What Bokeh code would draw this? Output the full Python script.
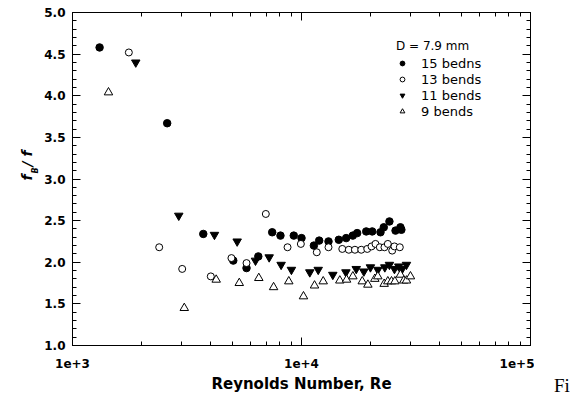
import math
from bokeh.plotting import figure
from bokeh.layouts import row
from bokeh.models import (Range1d, FixedTicker, LinearAxis, LogAxis, Label,
                          Legend, LegendItem, CustomJSTickFormatter, Div)
from bokeh.embed import file_html
from bokeh.resources import INLINE

# ---- data ----
re_15 = [1313, 2591, 3725, 5036, 5753, 6477, 7448, 8093, 9253, 10000, 11325,
         11946, 13120, 14550, 15670, 16750, 17500, 19170, 20360, 22130, 22870,
         24210, 25740, 27040, 27300]
fb_15 = [4.58, 3.67, 2.34, 2.02, 1.93, 2.07, 2.36, 2.32, 2.32, 2.29, 2.20,
         2.26, 2.25, 2.27, 2.29, 2.32, 2.35, 2.37, 2.37, 2.36, 2.42,
         2.49, 2.38, 2.42, 2.39]

re_13 = [1762, 2391, 3013, 4017, 4943, 5753, 6985, 8690, 9935, 11660, 13120,
         15070, 16090, 17110, 18240, 19370, 20220, 21040, 21980, 23030, 23820,
         24890, 25460, 26870]
fb_13 = [4.52, 2.18, 1.92, 1.83, 2.05, 1.99, 2.58, 2.18, 2.22, 2.12, 2.18,
         2.16, 2.15, 2.15, 2.15, 2.16, 2.19, 2.22, 2.18, 2.18, 2.22,
         2.14, 2.19, 2.18]

re_11 = [1889, 2911, 4168, 5237, 6296, 7225, 8147, 9036, 10870, 11830, 13700,
         15630, 17340, 18720, 20000, 21540, 23110, 24210, 25460, 26590, 27520,
         28730]
fb_11 = [4.40, 2.56, 2.33, 2.25, 2.02, 2.06, 1.97, 1.91, 1.88, 1.91, 1.85,
         1.88, 1.92, 1.89, 1.94, 1.91, 1.94, 1.97, 1.92, 1.95, 1.92,
         1.97]

re_9 = [1436, 3077, 4241, 5349, 6510, 7553, 8800, 10200, 11400, 12440, 14700,
        15730, 16760, 18420, 19490, 20900, 21540, 22960, 23820, 24720, 25570,
        27040, 27970, 28730, 29910]
fb_9 = [4.04, 1.45, 1.79, 1.75, 1.81, 1.70, 1.77, 1.59, 1.72, 1.77, 1.78,
        1.79, 1.83, 1.77, 1.73, 1.80, 1.83, 1.74, 1.77, 1.77, 1.77,
        1.85, 1.78, 1.78, 1.83]

series_labels = ["15 bedns", "13 bends", "11 bends", "9 bends"]
legend_title = "D = 7.9 mm"

x_ticks = [1e3, 1e4, 1e5]
x_tick_labels = ["1e+3", "1e+4", "1e+5"]
x_minor = [m * d for d in (1e3, 1e4) for m in range(2, 10)]
y_ticks = [1.0, 1.5, 2.0, 2.5, 3.0, 3.5, 4.0, 4.5, 5.0]
y_tick_labels = ["1.0", "1.5", "2.0", "2.5", "3.0", "3.5", "4.0", "4.5", "5.0"]
y_minor = [round(1.0 + 0.1 * i, 1) for i in range(41)]

x_title = "Reynolds Number, Re"
y_title_parts = ["f", "B", " / f"]   # f_B / f
caption = "Fi"

FONT = "DejaVu Sans"
H = 401
LEFT_W = 40
RIGHT_W = 47
MAIN_W = 581 - LEFT_W - RIGHT_W
FRAME_BOTTOM = 345   # canvas y of the plot frame's bottom (aligned across the row)

LOOKUP = """
for (let i = 0; i < vals.length; i++) {
  if (Math.abs(tick - vals[i]) <= 1e-6 * Math.abs(vals[i])) { return labels[i]; }
}
return "";
"""

p = figure(width=MAIN_W, height=H, x_axis_type="log",
           x_range=Range1d(1e3, 1e5), y_range=Range1d(1.0, 5.0),
           output_backend="svg", toolbar_location=None,
           min_border_left=72 - LEFT_W, min_border_right=4,
           min_border_top=12, min_border_bottom=H - FRAME_BOTTOM)
p.grid.visible = False
p.outline_line_color = "black"
p.outline_line_width = 1
p.background_fill_color = "white"
p.border_fill_color = "white"


def style_axis(ax):
    ax.axis_line_color = "black"
    ax.major_tick_line_color = "black"
    ax.minor_tick_line_color = "black"
    ax.major_tick_in = 8
    ax.major_tick_out = 0
    ax.minor_tick_in = 4
    ax.minor_tick_out = 0
    ax.major_label_text_font = FONT
    ax.major_label_text_font_style = "bold"
    ax.major_label_text_font_size = "12px"
    ax.major_label_text_color = "black"


xa = p.xaxis[0]
xa.ticker = FixedTicker(ticks=x_ticks, minor_ticks=x_minor)
style_axis(xa)
xa.formatter = CustomJSTickFormatter(args=dict(vals=x_ticks, labels=x_tick_labels),
                                     code=LOOKUP)
xa.major_label_standoff = 13
xa.axis_label = x_title
xa.axis_label_text_font = FONT
xa.axis_label_text_font_style = "bold"
xa.axis_label_text_font_size = "15px"
xa.axis_label_text_color = "black"
xa.axis_label_standoff = 4

ya = p.yaxis[0]
ya.ticker = FixedTicker(ticks=y_ticks, minor_ticks=y_minor)
style_axis(ya)
ya.formatter = CustomJSTickFormatter(args=dict(vals=y_ticks, labels=y_tick_labels),
                                     code=LOOKUP)
ya.major_label_standoff = 7

# tick-only axes on top and right
blank_x = CustomJSTickFormatter(args=dict(vals=x_ticks, labels=["" for _ in x_ticks]),
                                code=LOOKUP)
blank_y = CustomJSTickFormatter(args=dict(vals=y_ticks, labels=["" for _ in y_ticks]),
                                code=LOOKUP)
top = LogAxis(ticker=FixedTicker(ticks=x_ticks, minor_ticks=x_minor), formatter=blank_x)
style_axis(top)
top.major_label_text_color = None
top.major_label_text_font_size = "2px"
top.major_label_standoff = 0
p.add_layout(top, "above")
right = LinearAxis(ticker=FixedTicker(ticks=y_ticks, minor_ticks=y_minor), formatter=blank_y)
style_axis(right)
right.major_label_text_color = None
right.major_label_text_font_size = "2px"
right.major_label_standoff = 0
p.add_layout(right, "right")

# ---- data marks ----
r15 = p.scatter(re_15, fb_15, marker="circle", size=7.5, fill_color="black",
                line_color="black")
r13 = p.scatter(re_13, fb_13, marker="circle", size=7, fill_color="white",
                line_color="black", line_width=1)
r11 = p.scatter(re_11, fb_11, marker="inverted_triangle", size=8.5,
                fill_color="black", line_color="black")
r9 = p.scatter(re_9, fb_9, marker="triangle", size=8.5, fill_color="white",
               line_color="black", line_width=1)

legend = Legend(
    items=[LegendItem(label=lab, renderers=[r])
           for lab, r in zip(series_labels, [r15, r13, r11, r9])],
    location=(324, 226), title=legend_title,
    title_text_font=FONT, title_text_font_size="12px",
    title_text_font_style="normal", title_text_color="black",
    label_text_font=FONT, label_text_font_size="13px",
    label_text_color="black",
    glyph_width=12, glyph_height=16, label_height=16, spacing=0,
    padding=5, margin=0, label_standoff=13, title_standoff=2,
    border_line_color=None, background_fill_alpha=0)
p.add_layout(legend)

# ---- y axis title strip: f_B / f (rotated, reading upward) ----
left = figure(width=LEFT_W, height=H, output_backend="svg", toolbar_location=None,
              x_range=Range1d(0, LEFT_W), y_range=Range1d(0, 1),
              x_axis_location=None, y_axis_location=None, min_border=0)
left.grid.visible = False
left.outline_line_color = None
left.background_fill_color = "white"
left.border_fill_color = "white"
yfont = dict(text_font=FONT, text_font_style="bold italic",
             text_color="black", angle=math.pi / 2,
             x_units="screen", y_units="screen",
             text_baseline="alphabetic", text_align="left")
left.add_layout(Label(x=26, y=FRAME_BOTTOM - 180, text=y_title_parts[0],
                      text_font_size="14px", **yfont))
left.add_layout(Label(x=35, y=FRAME_BOTTOM - 173, text=y_title_parts[1],
                      text_font_size="8px", **yfont))
left.add_layout(Label(x=26, y=FRAME_BOTTOM - 166, text=y_title_parts[2],
                      text_font_size="14px", **yfont))

# ---- cut-off caption at the bottom right ----
cap = Div(width=RIGHT_W, height=H,
          text=('<div style="margin:371px 0 0 15px; font-family:\'Liberation Serif\';'
                'font-size:19px; line-height:19px; color:black; white-space:nowrap;">'
                + caption + '</div>'))

layout = row(left, p, cap, spacing=0)
open("out.html", "w").write(file_html(layout, INLINE))
